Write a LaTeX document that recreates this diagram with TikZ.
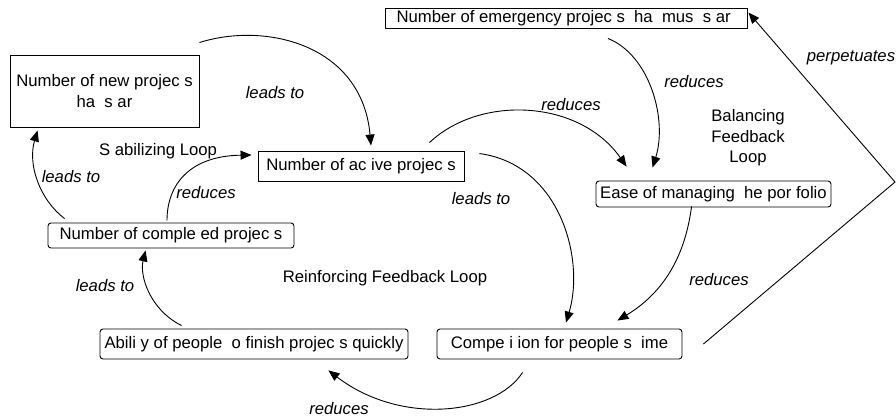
\documentclass[tikz,border=0pt]{standalone}
\usepackage{fontspec}
\setmainfont{Liberation Sans}
\usepackage{tikz}
\usetikzlibrary{arrows.meta}
\newcommand{\tgap}{\phantom{t}}

\begin{document}
\begin{tikzpicture}[x=1pt,y=-1pt,
  box/.style={draw,line width=0.9pt,inner sep=0pt,font=\fontsize{16.7}{20.5}\selectfont},
  rbox/.style={box,rounded corners=3pt},
  txt/.style={font=\fontsize{16.7}{20.5}\selectfont},
  lbl/.style={font=\fontsize{16.7}{20.5}\selectfont\itshape},
  link/.style={line width=0.9pt,-{Triangle[length=11pt,width=9pt]}}]
\useasboundingbox (0,0) rectangle (896,418);
\node[box,minimum width=189pt,minimum height=72pt,align=center] (new) at (104.5,91) {Number of new projec\tgap s\\\tgap ha\tgap{} s\tgap ar\tgap};
\node[box,minimum width=362pt,minimum height=20pt] (emerg) at (566,18) {Number of emergency projec\tgap s \tgap ha\tgap{} mus\tgap{} s\tgap ar\tgap};
\node[box,minimum width=206pt,minimum height=30pt] (active) at (361,166) {Number of ac\tgap ive projec\tgap s};
\node[rbox,minimum width=246pt,minimum height=25pt] (compl) at (171,235.5) {Number of comple\tgap ed projec\tgap s};
\node[rbox,minimum width=308pt,minimum height=30pt] (ability) at (254,344) {Abili\tgap y of people \tgap o finish projec\tgap s quickly};
\node[rbox,minimum width=245pt,minimum height=30pt] (compet) at (559.5,344) {Compe\tgap i\tgap ion for people\tgap s \tgap ime};
\node[rbox,minimum width=235pt,minimum height=26pt] (ease) at (713.5,194) {Ease of managing \tgap he por\tgap folio};
\coordinate (turn) at (895,182);
\node[txt] (stab) at (158,151) {S\tgap abilizing Loop};
\node[txt] (reinf) at (385,278) {Reinforcing Feedback Loop};
\node[txt,align=center] (bal) at (748,138) {Balancing\\Feedback\\Loop};
\node[lbl] (l1) at (275,93) {leads to};
\node[lbl] (l2) at (571,105) {reduces};
\node[lbl] (l3) at (694,82) {reduces};
\node[lbl] (l4) at (851,58) {perpetuates};
\node[lbl] (l5) at (481,199) {leads to};
\node[lbl] (l6) at (719,280) {reduces};
\node[lbl] (l7) at (339,409) {reduces};
\node[lbl] (l8) at (105,286) {leads to};
\node[lbl] (l9) at (71,177) {leads to};
\node[lbl] (l10) at (206,193) {reduces};
\draw[link] ([yshift=12pt]new.north east) .. controls +(66,-21) and +(-9,-101) .. ([xshift=10pt,yshift=5pt]active.north);
\draw[link] ([xshift=-35pt,yshift=8pt]active.north east) .. controls +(51,-48) and +(-47,-67) .. ([xshift=31pt,yshift=14pt]ease.north west);
\draw[link] ([xshift=42pt,yshift=-10pt]emerg.south) .. controls +(42,17) and +(15,-48) .. ([xshift=57pt,yshift=13pt]ease.north west);
\draw[link] ([xshift=15pt,yshift=-3pt]active.north east) .. controls +(81,11) and +(19,-63) .. ([xshift=6.5pt,yshift=6pt]compet.north);
\draw[link] ([xshift=96pt,yshift=1pt]ease.south west) .. controls +(-7,54) and +(43,-26) .. ([xshift=-65pt,yshift=8pt]compet.north east);
\draw[link] ([xshift=21pt]compet.east) -- (turn) -- ([xshift=1pt,yshift=-5pt]emerg.north east);
\draw[link] ([xshift=86pt,yshift=-13pt]compet.south west) .. controls +(-28,43) and +(72,55) .. ([xshift=-80pt,yshift=-11pt]ability.south east);
\draw[link] ([xshift=82pt,yshift=3pt]ability.north west) .. controls +(-32,-16) and +(-6,25) .. ([xshift=98pt,yshift=-2pt]compl.south west);
\draw[link] ([xshift=17pt,yshift=4pt]compl.north west) .. controls +(-25,-19) and +(-10,34) .. ([xshift=28pt,yshift=-3pt]new.south west);
\draw[link] ([xshift=-4pt,yshift=2pt]compl.north) .. controls +(0,-36) and +(-62,1) .. ([xshift=-6pt,yshift=11pt]active.west);
\end{tikzpicture}
\end{document}
